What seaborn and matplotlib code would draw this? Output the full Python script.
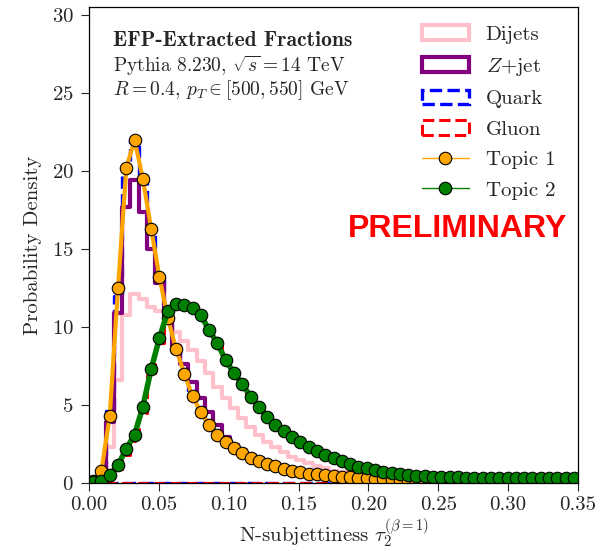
import numpy as np
import pandas as pd
import matplotlib
matplotlib.use("Agg")
import matplotlib.pyplot as plt
import seaborn as sns
from matplotlib.patches import Patch
from matplotlib.lines import Line2D

# ---------------- data ----------------
edges = np.linspace(0.0, 0.35, 60)          # 59 bins
centers = 0.5 * (edges[:-1] + edges[1:])

dijets = [0.0, 0.3, 2.3, 6.6, 10.8, 12.1, 11.8, 11.3, 11.0, 10.3,
          9.7, 9.1, 8.5, 7.8, 7.03, 6.17, 5.43, 4.79, 4.15, 3.61,
          3.08, 2.65, 2.33, 2.0, 1.69, 1.47, 1.26, 1.09, 0.94, 0.8,
          0.68, 0.57, 0.48, 0.4, 0.33, 0.27, 0.22, 0.18, 0.14, 0.11,
          0.09, 0.07, 0.06, 0.05, 0.04, 0.03, 0.03, 0.02, 0.02, 0.02,
          0.01, 0.01, 0.01, 0.01, 0.01, 0.01, 0.01, 0.01, 0.01]
zjet = [0.0, 0.4, 3.9, 10.9, 17.7, 19.4, 17.4, 15.0, 12.8, 10.7,
        8.8, 7.6, 6.5, 5.43, 4.57, 3.72, 2.97, 2.44, 2.1, 1.8,
        1.58, 1.37, 1.15, 1.0, 0.87, 0.75, 0.64, 0.55, 0.47, 0.4,
        0.34, 0.29, 0.24, 0.2, 0.17, 0.14, 0.12, 0.1, 0.08, 0.07,
        0.06, 0.05, 0.04, 0.03, 0.03, 0.02, 0.02, 0.02, 0.01, 0.01,
        0.01, 0.01, 0.01, 0.01, 0.01, 0.01, 0.01, 0.01, 0.01]
quark = [0.05, 0.7, 4.6, 12.0, 20.0, 22.0, 19.4, 16.2, 13.0, 10.5,
         8.4, 6.9, 5.5, 4.45, 3.65, 3.05, 2.6, 2.2, 1.85, 1.6,
         1.38, 1.2, 1.04, 0.9, 0.78, 0.67, 0.57, 0.5, 0.44, 0.4,
         0.36, 0.33, 0.3, 0.27, 0.24, 0.21, 0.18, 0.14, 0.11, 0.08,
         0.06, 0.05, 0.04, 0.03, 0.03, 0.03, 0.02, 0.02, 0.02, 0.02,
         0.02, 0.02, 0.02, 0.02, 0.02, 0.02, 0.02, 0.02, 0.02]
gluon = [0.02, 0.1, 0.35, 0.9, 1.8, 2.7, 4.5, 6.9, 9.0, 10.8,
         11.5, 11.5, 11.2, 10.8, 10.0, 9.1, 8.0, 7.2, 6.4, 5.6,
         4.95, 4.3, 3.8, 3.35, 2.95, 2.6, 2.3, 2.05, 1.82, 1.6,
         1.4, 1.2, 1.05, 0.94, 0.83, 0.72, 0.63, 0.56, 0.5, 0.45,
         0.41, 0.38, 0.35, 0.33, 0.31, 0.3, 0.3, 0.29, 0.29, 0.28,
         0.28, 0.27, 0.27, 0.27, 0.26, 0.26, 0.26, 0.25, 0.25]
topic1 = [0.1, 0.8, 4.3, 12.5, 20.2, 22.0, 19.5, 16.3, 13.2, 10.6,
          8.6, 7.0, 5.55, 4.55, 3.72, 3.08, 2.65, 2.22, 1.9, 1.62,
          1.4, 1.22, 1.06, 0.92, 0.8, 0.68, 0.6, 0.55, 0.5, 0.45,
          0.4, 0.36, 0.33, 0.3, 0.27, 0.24, 0.2, 0.16, 0.12, 0.09,
          0.07, 0.05, 0.04, 0.03, 0.03, 0.03, 0.02, 0.02, 0.02, 0.02,
          0.02, 0.02, 0.02, 0.02, 0.02, 0.02, 0.02, 0.02, 0.02]
topic2 = [0.05, 0.15, 0.5, 1.15, 2.2, 3.1, 4.9, 7.3, 9.3, 11.0,
          11.5, 11.4, 11.2, 10.75, 9.8, 8.95, 7.86, 7.05, 6.35, 5.53,
          4.9, 4.25, 3.72, 3.35, 2.95, 2.62, 2.31, 2.03, 1.8, 1.6,
          1.4, 1.2, 1.05, 0.94, 0.83, 0.72, 0.63, 0.56, 0.5, 0.46,
          0.43, 0.41, 0.39, 0.37, 0.36, 0.35, 0.35, 0.34, 0.34, 0.33,
          0.33, 0.32, 0.32, 0.32, 0.31, 0.31, 0.31, 0.3, 0.3]

labels = ["Dijets", r"$Z$+jet", "Quark", "Gluon", "Topic 1", "Topic 2"]
xticks = [0.00, 0.05, 0.10, 0.15, 0.20, 0.25, 0.30, 0.35]
yticks = [0, 5, 10, 15, 20, 25, 30]

# ---------------- style ----------------
sns.set_style("ticks")
plt.rcParams["font.family"] = ["cmr10", "DejaVu Serif"]
plt.rcParams["mathtext.fontset"] = "cm"
plt.rcParams["axes.formatter.use_mathtext"] = True
plt.rcParams["axes.unicode_minus"] = False

fig = plt.figure(figsize=(6.0, 5.51), dpi=100)
ax = fig.add_axes([89 / 600, 1 - 483 / 551, 489 / 600, 475.7 / 551])

def hist(vals, **kw):
    df = pd.DataFrame({"x": centers, "w": vals})
    sns.histplot(data=df, x="x", weights="w", bins=list(edges),
                 element="step", ax=ax, **kw)

hist(dijets, fill=False, color="pink", linewidth=3)
hist(zjet, fill=False, color="purple", linewidth=3)
hist(quark, fill=True, color="blue", facecolor="none", edgecolor="blue",
     linestyle="--", linewidth=2.4)
hist(gluon, fill=True, color="red", facecolor="none", edgecolor="red",
     linestyle="--", linewidth=2.2)

MS = 9
for vals, col, band in [(topic1, "orange", 3.0), (topic2, "green", 4.0)]:
    sns.lineplot(x=centers, y=vals, color=col, linewidth=band, ax=ax,
                 legend=False)
    sns.lineplot(x=centers, y=vals, color=col, linewidth=1.0, marker="o",
                 markersize=MS, mec="black", mew=0.8, ax=ax, legend=False)

ax.set_xlim(0, 0.35)
ax.set_ylim(0, 30.5)
ax.set_xticks(xticks)
ax.set_xticklabels([f"{t:.2f}" for t in xticks])
ax.set_yticks(yticks)
ax.tick_params(direction="out", length=6, width=0.8, labelsize=15)
ax.tick_params(axis="y", pad=5)
for s in ax.spines.values():
    s.set_visible(True)
    s.set_linewidth(0.9)
    s.set_color("black")
ax.set_xlabel(r"N-subjettiness $\tau_2^{(\beta=1)}$", fontsize=15,
              labelpad=2)
ax.set_ylabel("Probability Density", fontsize=15, labelpad=7)

# annotation text
ax.text(0.049, 0.931, "EFP-Extracted Fractions", transform=ax.transAxes,
        fontsize=15.5, family=["cmb10", "DejaVu Serif"], ha="left",
        va="center")
ax.text(0.049, 0.877, r"Pythia 8.230, $\sqrt{s} = 14$ TeV",
        transform=ax.transAxes, fontsize=14, ha="left", va="center")
ax.text(0.049, 0.826, r"$R = 0.4$, $p_T \in [500, 550]$ GeV",
        transform=ax.transAxes, fontsize=14, ha="left", va="center")

ax.text(0.754, 0.534, "PRELIMINARY", transform=ax.transAxes,
        fontsize=23, fontweight="bold", color="red",
        family=["Liberation Sans", "DejaVu Sans"], ha="center", va="center")

handles = [
    Patch(facecolor="none", edgecolor="pink", linewidth=3),
    Patch(facecolor="none", edgecolor="purple", linewidth=3),
    Patch(facecolor="none", edgecolor="blue", linewidth=2.4, linestyle="--"),
    Patch(facecolor="none", edgecolor="red", linewidth=2.2, linestyle="--"),
    Line2D([], [], color="orange", lw=1.0, marker="o", markersize=MS,
           markerfacecolor="orange", markeredgecolor="black", mew=0.8),
    Line2D([], [], color="green", lw=1.0, marker="o", markersize=MS,
           markerfacecolor="green", markeredgecolor="black", mew=0.8),
]
ax.legend(handles, labels, loc="upper left", bbox_to_anchor=(0.681, 0.962),
          frameon=False, fontsize=15, borderaxespad=0, borderpad=0,
          handlelength=2.25, handletextpad=0.8, labelspacing=0.57)

fig.savefig("out.png", dpi=100)
